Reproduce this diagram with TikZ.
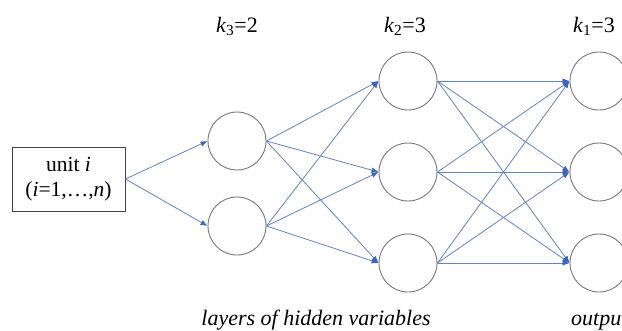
\documentclass[tikz,border=0pt]{standalone}
\usepackage{fontspec}
\setmainfont{Liberation Serif}
\usetikzlibrary{arrows.meta}
\definecolor{edgeblue}{RGB}{100,132,192}
\definecolor{arrowblue}{RGB}{60,100,190}
\definecolor{circgray}{RGB}{120,120,128}
\tikzset{
  neuron/.style={circle, draw=circgray, line width=0.9pt, minimum size=58pt, inner sep=0pt},
  inbox/.style={draw=black!75, line width=0.9pt, minimum width=113pt, minimum height=64pt, inner sep=0pt, align=center},
  conn/.style={draw=edgeblue, line width=0.8pt, -{Latex[length=7pt,width=5.5pt,color=arrowblue]}},
  lab/.style={font=\fontsize{22}{24}\selectfont, anchor=base},
}
\begin{document}
\begin{tikzpicture}[x=1pt,y=-1pt]
\clip (0,0) rectangle (622,330);
\fill[white] (0,0) rectangle (622,330);
\node[inbox, font=\fontsize{21.5}{25}\selectfont] (in) at (68.5,179) {unit \textit{i}\\(\textit{i}=1,\ldots,\textit{n})};
\node[neuron] (a1) at (237,141) {};
\node[neuron] (a2) at (237,226) {};
\node[neuron] (b1) at (408,81) {};
\node[neuron] (b2) at (408,172) {};
\node[neuron] (b3) at (408,263) {};
\node[neuron] (c1) at (599,81) {};
\node[neuron] (c2) at (599,172) {};
\node[neuron] (c3) at (599,263) {};
\node[lab] (k3) at (237,32) {\textit{k}\textsubscript{3}=2};
\node[lab] (k2) at (405,32) {\textit{k}\textsubscript{2}=3};
\node[lab] (k1) at (594,32) {\textit{k}\textsubscript{1}=3};
\node[lab] (hid) at (316,325) {\textit{layers of hidden variables}};
\node[lab, anchor=base west, inner xsep=0pt] (out) at (571,325) {\textit{outpu}};
\coordinate (src) at (in.east);
\foreach \t in {a1,a2} \draw[conn] (src) -- (\t.west);
\foreach \s in {a1,a2} \foreach \t in {b1,b2,b3} \draw[conn] (\s.east) -- (\t.west);
\foreach \s in {b1,b2,b3} \foreach \t in {c1,c2,c3} \draw[conn] (\s.east) -- (\t.west);
\end{tikzpicture}
\end{document}
